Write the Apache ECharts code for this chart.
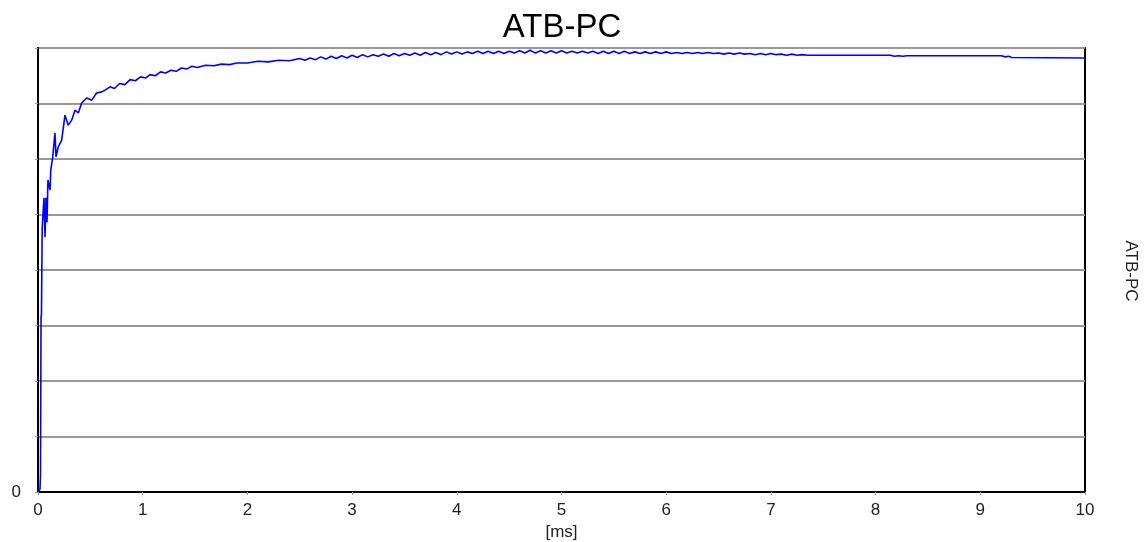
<!DOCTYPE html>
<html>
<head>
<meta charset="utf-8">
<script src="https://cdn.jsdelivr.net/npm/echarts@6/dist/echarts.min.js"></script>
<style>
  html, body { margin: 0; padding: 0; background: #fff; }
  #chart { width: 1145px; height: 542px; }
</style>
</head>
<body>
<div id="chart"></div>
<script>
// datos (tiempo en ms, valor ATB-PC en divisiones)
var timeMs = [
  0, 0.019, 0.024, 0.029, 0.033, 0.04, 0.057, 0.067, 0.076, 0.086, 0.095, 0.115, 0.122, 0.141, 0.162, 0.172, 0.194, 0.226, 0.258,
  0.289, 0.322, 0.353, 0.385, 0.417, 0.465, 0.513, 0.56, 0.608, 0.64, 0.688,
  0.73, 0.78, 0.83, 0.88, 0.93, 0.98, 1.03, 1.07, 1.12, 1.17, 1.22, 1.27, 1.32, 1.37, 1.42, 1.47, 1.52,
  1.6, 1.68, 1.75, 1.83, 1.9, 2.0, 2.1, 2.2, 2.3, 2.4,
  2.5, 2.55, 2.6, 2.65, 2.7, 2.75, 2.8, 2.85, 2.9, 2.95, 3.0, 3.05, 3.1, 3.15, 3.2, 3.25, 3.3, 3.35, 3.4, 3.45,
  3.5, 3.55, 3.6, 3.65, 3.7, 3.75, 3.8, 3.85, 3.9, 3.95, 4.0, 4.05, 4.1, 4.15, 4.2, 4.25, 4.3, 4.35, 4.4, 4.45,
  4.5, 4.55, 4.6, 4.65, 4.7, 4.75, 4.8, 4.85, 4.9, 4.95, 5.0, 5.05, 5.1, 5.15, 5.2, 5.25, 5.3, 5.35, 5.4, 5.45,
  5.5, 5.55, 5.6, 5.65, 5.7, 5.75, 5.8, 5.85, 5.9, 5.95, 6.0, 6.05, 6.1, 6.15, 6.2, 6.25, 6.3, 6.35, 6.4, 6.45,
  6.5, 6.55, 6.6, 6.65, 6.7, 6.75, 6.8, 6.85, 6.9, 6.95, 7.0, 7.05, 7.1, 7.15, 7.2, 7.25, 7.3, 7.35,
  7.8, 8.14, 8.18, 8.22, 8.26, 8.3, 8.36, 9.2, 9.24, 9.27, 9.3, 10.0
];
var atbPc = [
  0, 0.05, 0.3, 3.15, 3.2, 4.75, 5.3, 4.59, 5.3, 4.86, 5.62, 5.44, 5.8, 6.04, 6.47, 6.04, 6.22, 6.34, 6.79,
  6.61, 6.7, 6.88, 6.83, 7.01, 7.1, 7.06, 7.19, 7.21, 7.24, 7.3,
  7.27, 7.36, 7.34, 7.43, 7.41, 7.48, 7.46, 7.52, 7.5, 7.57, 7.55, 7.6, 7.58, 7.64, 7.62, 7.67, 7.65,
  7.69, 7.68, 7.71, 7.7, 7.73, 7.73, 7.76, 7.75, 7.78, 7.77,
  7.81, 7.78, 7.82, 7.79, 7.84, 7.8, 7.85, 7.81, 7.86, 7.82, 7.87, 7.83, 7.88, 7.84, 7.88, 7.85, 7.89, 7.85, 7.9, 7.86,
  7.9, 7.87, 7.91, 7.87, 7.92, 7.88, 7.92, 7.88, 7.93, 7.89, 7.93, 7.89, 7.93, 7.9, 7.94, 7.9, 7.94, 7.9, 7.94, 7.9,
  7.94, 7.91, 7.95, 7.91, 7.96, 7.91, 7.95, 7.91, 7.95, 7.91, 7.95, 7.91, 7.94, 7.91, 7.94, 7.91, 7.94, 7.9, 7.94, 7.9,
  7.94, 7.9, 7.94, 7.9, 7.93, 7.9, 7.93, 7.9, 7.93, 7.9, 7.93, 7.9, 7.92, 7.9, 7.92, 7.9, 7.92, 7.9, 7.92, 7.9,
  7.91, 7.89, 7.91, 7.89, 7.91, 7.89, 7.9, 7.88, 7.9, 7.88, 7.9, 7.88, 7.89, 7.87, 7.89, 7.87, 7.88, 7.87,
  7.87, 7.87, 7.85, 7.86, 7.85, 7.86, 7.86, 7.86, 7.84, 7.85, 7.83, 7.82
];
var xTicks = ['0', '1', '2', '3', '4', '5', '6', '7', '8', '9', '10'];

var serie = [];
for (var i = 0; i < timeMs.length; i++) {
  serie.push([timeMs[i], atbPc[i]]);
}

var chart = echarts.init(document.getElementById('chart'), null, { renderer: 'canvas' });
chart.setOption({
  animation: false,
  title: {
    text: 'ATB-PC',
    left: 557,
    top: 6,
    textAlign: 'center',
    textStyle: { fontFamily: 'Liberation Sans', fontSize: 33, fontWeight: 'normal', color: '#000' }
  },
  grid: {
    left: 38, right: 60, top: 48, bottom: 50,
    containLabel: false,
    outerBoundsMode: 'none',
    show: true, borderColor: '#000', borderWidth: 2, backgroundColor: '#fff'
  },
  xAxis: {
    type: 'value',
    min: 0, max: 10, interval: 1,
    name: '[ms]',
    nameLocation: 'middle',
    nameGap: 29,
    nameTextStyle: { fontFamily: 'Liberation Sans', fontSize: 17, color: '#222' },
    axisLine: { show: true, lineStyle: { color: '#000', width: 2 } },
    axisTick: { show: true, length: 3, inside: false, lineStyle: { color: '#999', width: 1 } },
    axisLabel: {
      margin: 10,
      fontFamily: 'Liberation Sans', fontSize: 17, color: '#222',
      formatter: function (v) { return xTicks[Math.round(v)]; }
    },
    splitLine: { show: false }
  },
  yAxis: {
    type: 'value',
    min: 0, max: 8, interval: 1,
    axisLine: { show: true, lineStyle: { color: '#000', width: 2 } },
    axisTick: { show: true, length: 3, lineStyle: { color: '#999', width: 1 } },
    axisLabel: {
      margin: 17,
      fontFamily: 'Liberation Sans', fontSize: 17, color: '#222',
      formatter: function (v) { return v === 0 ? '0' : ''; }
    },
    splitLine: { show: true, lineStyle: { color: '#999', width: 2 } }
  },
  graphic: [{
    type: 'text',
    x: 1131, y: 271,
    rotation: -Math.PI / 2,
    style: {
      text: 'ATB-PC',
      fontFamily: 'Liberation Sans', fontSize: 17, fill: '#222',
      align: 'center', verticalAlign: 'middle'
    }
  }],
  series: [{
    name: 'ATB-PC',
    type: 'line',
    data: serie,
    showSymbol: false,
    symbol: 'none',
    lineStyle: { color: '#0000ff', width: 1.6 },
    z: 5
  }]
});
</script>
</body>
</html>
